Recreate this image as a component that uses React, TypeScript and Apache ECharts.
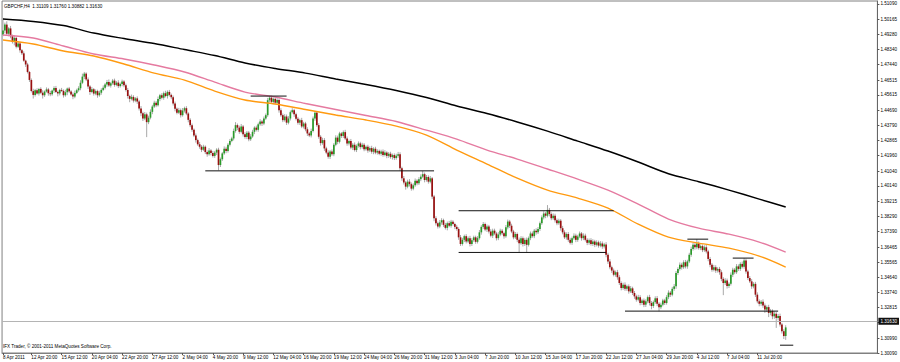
import React, { useEffect, useRef } from 'react';
import * as echarts from 'echarts';

// Prices are stored in pips above 1.3000 (e.g. 1950 -> 1.3950)
const firstOpen = 1925;
const closes = [
  1950, 1985, 1930, 1962, 1915, 1880, 1905, 1852, 1872, 1830,
  1812, 1768, 1745, 1700, 1652, 1585, 1562, 1590, 1570, 1598,
  1575, 1560, 1582, 1595, 1572, 1566, 1588, 1604, 1580, 1571,
  1592, 1586, 1560, 1578, 1600, 1583, 1565, 1552, 1574, 1590,
  1602, 1635, 1672, 1690, 1655, 1612, 1580, 1596, 1570, 1585,
  1560, 1575, 1592, 1605, 1625, 1640, 1618, 1632, 1648, 1622,
  1636, 1615, 1628, 1642, 1620, 1592, 1555, 1538, 1550, 1528,
  1541, 1522, 1480, 1452, 1420, 1445, 1398, 1425, 1460, 1492,
  1515, 1500, 1538, 1560, 1545, 1572, 1555, 1580, 1562, 1548,
  1510, 1478, 1455, 1470, 1440, 1468, 1482, 1450, 1412, 1380,
  1352, 1318, 1290, 1265, 1250, 1232, 1250, 1218, 1205, 1228,
  1212, 1195, 1215, 1232, 1140, 1175, 1210, 1238, 1225, 1262,
  1285, 1300, 1345, 1380, 1365, 1340, 1372, 1325, 1308, 1335,
  1295, 1312, 1340, 1365, 1352, 1385, 1402, 1390, 1420, 1440,
  1530, 1545, 1520, 1538, 1515, 1532, 1470, 1440, 1410, 1432,
  1395, 1420, 1458, 1470, 1445, 1418, 1395, 1410, 1372, 1390,
  1355, 1330, 1318, 1345, 1420, 1455, 1380, 1310, 1272, 1290,
  1240, 1215, 1190, 1222, 1205, 1262, 1305, 1280, 1330, 1315,
  1338, 1300, 1270, 1285, 1245, 1262, 1230, 1255, 1270, 1248,
  1262, 1235, 1250, 1228, 1242, 1220, 1238, 1215, 1225, 1208,
  1222, 1200, 1215, 1195, 1208, 1188, 1200, 1182, 1196, 1205,
  1120, 1060, 1035, 1010, 1040, 1025, 998, 1018, 1045, 1030,
  1055, 1070, 1085, 1050, 1068, 1040, 1060, 950, 820, 790,
  770, 795, 808, 780, 762, 790, 775, 798, 785, 768,
  755, 705, 665, 690, 712, 680, 700, 665, 688, 705,
  678, 700, 735, 768, 785, 752, 770, 740, 715, 745,
  728, 700, 722, 745, 730, 712, 765, 800, 775, 740,
  705, 725, 690, 670, 700, 665, 690, 660, 700, 728,
  712, 745, 735, 755, 790, 825, 848, 835, 870, 845,
  820, 835, 808, 790, 805, 760, 735, 705, 725, 690,
  672, 700, 715, 690, 710, 728, 700, 715, 690, 672,
  688, 665, 680, 660, 675, 655, 668, 650, 662, 600,
  560, 525, 505, 480, 495, 465, 430, 400, 420, 395,
  410, 380, 398, 370, 350, 330, 345, 310, 325, 300,
  320, 345, 310, 292, 315, 338, 305, 285, 300, 325,
  310, 345, 372, 360, 395, 410, 490, 515, 540, 525,
  555, 530, 560, 600, 635, 660, 645, 668, 640, 652,
  628, 645, 620, 575, 540, 510, 525, 505, 515, 495,
  455, 430, 445, 412, 425, 480, 510, 495, 530, 515,
  545, 528, 565, 500, 460, 440, 410, 425, 360, 320,
  305, 318, 295, 270, 285, 250, 262, 230, 245, 220,
  232, 180, 140, 111, 163,
];
const wickUp = [
  75, 12, 20, 8, 15, 10, 14, 6, 12, 9,
  8, 12, 6, 10, 5, 9, 14, 8, 12, 6,
  10, 15, 7, 12, 9, 14, 6, 10, 12, 8,
  7, 12, 9, 15, 6, 10, 8, 12, 14, 9,
  12, 15, 18, 10, 8, 12, 9, 14, 7, 10,
  8, 12, 10, 14, 9, 12, 15, 8, 10, 12,
  10, 14, 8, 12, 9, 10, 12, 8, 14, 10,
  8, 12, 10, 15, 9, 14, 10, 12, 15, 10,
  12, 10, 14, 8, 12, 10, 15, 9, 12, 8,
  10, 12, 8, 14, 10, 15, 9, 12, 8, 10,
  10, 8, 12, 9, 14, 10, 12, 8, 10, 14,
  8, 12, 10, 9, 12, 10, 8, 14, 12, 10,
  12, 10, 14, 18, 10, 12, 15, 9, 12, 10,
  10, 14, 12, 8, 12, 10, 14, 9, 12, 10,
  14, 10, 12, 8, 10, 12, 9, 12, 10, 14,
  12, 14, 10, 12, 8, 10, 12, 9, 14, 10,
  10, 12, 9, 14, 12, 10, 8, 12, 10, 14,
  12, 10, 14, 9, 12, 10, 14, 12, 10, 8,
  10, 14, 12, 8, 12, 10, 14, 9, 12, 10,
  12, 10, 8, 12, 10, 14, 9, 12, 10, 8,
  10, 12, 14, 8, 10, 12, 9, 10, 12, 14,
  12, 10, 14, 9, 12, 15, 10, 12, 14, 10,
  12, 14, 20, 10, 12, 10, 14, 8, 10, 12,
  10, 14, 12, 9, 12, 10, 14, 12, 10, 8,
  12, 10, 14, 12, 9, 12, 10, 14, 12, 10,
  10, 12, 14, 10, 12, 9, 12, 10, 14, 12,
  12, 10, 14, 12, 10, 9, 14, 12, 10, 12,
  10, 12, 9, 14, 12, 10, 12, 14, 10, 12,
  12, 10, 14, 12, 10, 12, 14, 10, 29, 12,
  10, 14, 12, 10, 12, 10, 14, 12, 10, 12,
  12, 10, 14, 12, 10, 12, 9, 14, 12, 10,
  10, 12, 14, 10, 12, 10, 14, 12, 10, 14,
  12, 14, 10, 12, 10, 14, 12, 10, 12, 14,
  10, 12, 14, 10, 12, 10, 14, 12, 10, 12,
  12, 10, 14, 12, 10, 12, 14, 10, 12, 10,
  10, 12, 14, 10, 12, 14, 12, 10, 14, 12,
  12, 14, 10, 12, 14, 12, 10, 26, 12, 10,
  10, 12, 14, 10, 12, 10, 14, 12, 10, 12,
  12, 10, 14, 12, 10, 14, 12, 10, 14, 12,
  10, 14, 15, 12, 10, 12, 14, 10, 12, 14,
  12, 10, 14, 12, 10, 14, 12, 10, 14, 12,
  12, 14, 10, 12, 13,
];
const wickDown = [
  10, 18, 8, 15, 12, 9, 20, 10, 8, 14,
  10, 7, 15, 9, 12, 8, 22, 10, 6, 12,
  8, 20, 10, 6, 15, 12, 9, 14, 7, 18,
  12, 6, 14, 9, 18, 10, 8, 16, 10, 7,
  9, 12, 8, 15, 10, 14, 18, 8, 12, 10,
  15, 9, 12, 7, 10, 14, 8, 12, 9, 11,
  8, 12, 9, 14, 12, 10, 15, 20, 9, 12,
  10, 14, 12, 18, 15, 10, 90, 12, 10, 14,
  9, 12, 8, 14, 10, 12, 8, 15, 10, 12,
  12, 15, 10, 8, 14, 9, 12, 10, 15, 12,
  12, 10, 15, 9, 12, 14, 8, 12, 15, 9,
  14, 10, 12, 15, 32, 12, 10, 9, 14, 10,
  10, 8, 12, 10, 15, 12, 9, 14, 10, 12,
  12, 10, 8, 14, 10, 12, 9, 15, 10, 8,
  10, 12, 8, 14, 10, 12, 15, 10, 12, 9,
  14, 10, 12, 8, 15, 10, 12, 14, 10, 12,
  12, 15, 10, 12, 9, 14, 10, 12, 15, 10,
  15, 10, 12, 14, 10, 12, 9, 15, 10, 12,
  12, 10, 14, 12, 10, 15, 9, 12, 10, 14,
  10, 12, 9, 14, 10, 12, 15, 10, 12, 9,
  12, 10, 8, 14, 12, 10, 15, 12, 10, 12,
  14, 15, 12, 18, 10, 14, 12, 10, 9, 12,
  10, 12, 9, 14, 10, 12, 10, 15, 18, 14,
  12, 10, 14, 12, 10, 15, 9, 12, 10, 14,
  10, 15, 12, 10, 14, 12, 10, 15, 12, 10,
  12, 10, 9, 14, 12, 10, 15, 12, 10, 14,
  10, 14, 12, 10, 12, 15, 10, 12, 14, 10,
  12, 10, 14, 56, 10, 15, 12, 46, 10, 12,
  10, 12, 14, 10, 12, 10, 12, 15, 10, 14,
  12, 10, 14, 12, 10, 15, 12, 10, 14, 12,
  10, 12, 10, 14, 12, 10, 15, 12, 10, 14,
  12, 10, 12, 14, 10, 12, 10, 14, 12, 15,
  15, 12, 14, 10, 12, 15, 12, 14, 10, 12,
  12, 14, 10, 12, 15, 12, 10, 14, 12, 15,
  14, 12, 15, 20, 12, 10, 14, 25, 12, 10,
  12, 10, 12, 14, 10, 12, 15, 12, 10, 14,
  10, 12, 14, 10, 12, 10, 14, 12, 10, 12,
  12, 10, 12, 14, 15, 12, 10, 14, 12, 15,
  14, 73, 12, 15, 12, 10, 14, 12, 10, 12,
  12, 10, 12, 14, 12, 10, 15, 12, 14, 12,
  15, 12, 14, 20, 15, 25, 14, 18, 15, 60,
  15, 12, 14, 18, 23,
];

// Moving averages read at every 16th bar (pips above 1.3000)
const maBars = [0, 16, 32, 48, 64, 80, 96, 112, 128, 144, 160, 176, 192, 208, 224, 240, 256, 272, 288, 304, 320, 336, 352, 368, 384, 400, 414];
const maBlack = [2019, 2004, 1979, 1934, 1901, 1871, 1835, 1799, 1754, 1721, 1693, 1657, 1624, 1588, 1546, 1495, 1450, 1399, 1344, 1284, 1224, 1158, 1088, 1040, 989, 935, 887];
const maPink = [1922, 1904, 1856, 1808, 1778, 1742, 1700, 1639, 1579, 1549, 1510, 1474, 1438, 1402, 1350, 1296, 1230, 1176, 1116, 1055, 989, 905, 815, 760, 724, 676, 616];
const maOrange = [1892, 1868, 1826, 1796, 1748, 1693, 1651, 1585, 1531, 1507, 1474, 1441, 1411, 1374, 1320, 1230, 1146, 1061, 989, 941, 881, 784, 706, 670, 640, 592, 526];

// Hand-drawn horizontal lines
const trendFrom = [131, 107, 241, 241, 362, 386, 329, 411];
const trendTo = [150, 228, 323, 319, 373, 397, 410, 418];
const trendLevel = [1555, 1105, 865, 614, 694, 580, 261, 56];

const labelBars = [0, 15, 31, 47, 63, 79, 95, 111, 127, 143, 159, 175, 191, 207, 223, 239, 255, 271, 287, 303, 319, 335, 351, 367, 383, 399];
const dateLabels = ['8 Apr 2011', '12 Apr 20:00', '15 Apr 12:00', '20 Apr 04:00', '22 Apr 20:00', '27 Apr 12:00', '2 May 04:00', '4 May 20:00', '9 May 12:00', '12 May 04:00', '16 May 20:00', '19 May 12:00', '24 May 04:00', '26 May 20:00', '31 May 12:00', '3 Jun 04:00', '7 Jun 20:00', '10 Jun 12:00', '15 Jun 04:00', '17 Jun 20:00', '22 Jun 12:00', '27 Jun 04:00', '29 Jun 20:00', '4 Jul 12:00', '7 Jul 04:00', '11 Jul 20:00'];
const priceTicks = [1.51090, 1.50165, 1.49280, 1.48340, 1.47440, 1.46515, 1.45615, 1.44690, 1.43790, 1.42865, 1.41960, 1.41040, 1.40140, 1.39215, 1.38290, 1.37390, 1.36465, 1.35565, 1.34640, 1.33740, 1.32815, 1.31915, 1.30990, 1.30090];
const headerQuote = ['1.31109', '1.31760', '1.30882', '1.31630'];
const lastPrice = 1.3163;
const symbolTitle = 'GBPCHF,H4';
const footerText = 'IFX Trader, \u00a9 2001-2011 MetaQuotes Software Corp.';

const TOTAL_SLOTS = 463;
const P = (pip: number) => 1.3 + pip / 10000;

export default function App() {
  const ref = useRef<HTMLDivElement>(null);
  useEffect(() => {
    if (!ref.current) return;
    const chart = echarts.init(ref.current, undefined, { renderer: 'svg' });
    const labelSet = new Set(labelBars);
    const cats: string[] = [];
    for (let i = 0; i < TOTAL_SLOTS; i++) {
      const k = labelBars.indexOf(i);
      cats.push(k >= 0 ? dateLabels[k] : '');
    }
    const candles = closes.map((c, i) => {
      const o = i === 0 ? firstOpen : closes[i - 1];
      const h = Math.max(o, c) + wickUp[i];
      const l = Math.min(o, c) - wickDown[i];
      return [i, P(o), P(c), P(l), P(h)];
    });
    const fontFamily = 'Liberation Sans, Arial, sans-serif';
    const maSeries = (vals: number[], color: string, width: number) => ({
      type: 'line',
      data: maBars.map((b, k) => [b, P(vals[k])]),
      showSymbol: false,
      symbol: 'none',
      smooth: 0.3,
      silent: true,
      lineStyle: { color, width },
      z: 4,
    });
    const trendSeries = trendFrom.map((f, k) => ({
      type: 'line',
      data: [[f, P(trendLevel[k])], [trendTo[k], P(trendLevel[k])]],
      symbol: 'none',
      silent: true,
      lineStyle: { color: '#111', width: 1 },
      z: 5,
    }));
    chart.setOption({
      animation: false,
      backgroundColor: '#fff',
      grid: { left: 2, right: 18, top: 1, bottom: 9, show: true, borderColor: '#808080', borderWidth: 1 },
      xAxis: {
        type: 'category',
        data: cats,
        boundaryGap: true,
        axisLine: { show: true, lineStyle: { color: '#808080' } },
        axisTick: { show: true, interval: (i: number) => labelSet.has(i), alignWithLabel: true, length: 2, lineStyle: { color: '#555' } },
        axisLabel: { interval: (i: number) => labelSet.has(i), align: 'left', fontSize: 4.6, margin: 2, color: '#000', fontFamily },
        splitLine: { show: false },
      },
      yAxis: {
        type: 'value',
        position: 'right',
        min: 1.3009,
        max: 1.5127,
        scale: true,
        axisLine: { show: true, lineStyle: { color: '#666' } },
        axisTick: { show: true, customValues: priceTicks, length: 2, lineStyle: { color: '#555' } },
        axisLabel: { customValues: priceTicks, formatter: (v: number) => v.toFixed(5), fontSize: 4.6, margin: 3, color: '#000', fontFamily },
        splitLine: { show: false },
      },
      series: [
        {
          type: 'line',
          data: [[0, lastPrice], [1, lastPrice]],
          symbol: 'none',
          silent: true,
          lineStyle: { opacity: 0 },
          markLine: {
            symbol: ['none', 'none'],
            silent: true,
            animation: false,
            data: [{ yAxis: lastPrice }],
            lineStyle: { color: '#b4b4b4', type: 'solid', width: 1 },
            label: { show: true, position: 'end', formatter: lastPrice.toFixed(5), backgroundColor: '#111', color: '#fff', fontSize: 4.6, padding: [1, 2], distance: 1, fontFamily },
          },
          z: 1,
        },
        {
          type: 'custom',
          data: candles,
          encode: { x: 0, y: [1, 2, 3, 4] },
          clip: true,
          z: 3,
          renderItem: (params: any, api: any) => {
            const i = api.value(0);
            const o = api.value(1);
            const c = api.value(2);
            const l = api.value(3);
            const h = api.value(4);
            const po = api.coord([i, o]);
            const pc = api.coord([i, c]);
            const pl = api.coord([i, l]);
            const ph = api.coord([i, h]);
            const bw = 1.7;
            const top = Math.min(po[1], pc[1]);
            const hgt = Math.max(0.8, Math.abs(po[1] - pc[1]));
            return {
              type: 'group',
              children: [
                { type: 'line', shape: { x1: ph[0], y1: ph[1], x2: pl[0], y2: pl[1] }, style: { stroke: '#a8a8a8', lineWidth: 1 } },
                { type: 'rect', shape: { x: po[0] - bw / 2, y: top, width: bw, height: hgt }, style: { fill: c >= o ? '#2a9a2a' : '#980f0f' } },
              ],
            };
          },
        },
        maSeries(maBlack, '#000', 1.5),
        maSeries(maPink, '#e57aa0', 1.4),
        maSeries(maOrange, '#ff9a10', 1.4),
        ...trendSeries,
      ],
      graphic: [
        { type: 'text', left: 4, top: 4, style: { text: symbolTitle + '  ' + headerQuote.join(' '), fontSize: 4.6, fill: '#000', fontFamily } },
        { type: 'text', left: 3, top: 344, style: { text: footerText, fontSize: 4.6, fill: '#000', fontFamily } },
      ],
    });
    return () => chart.dispose();
  }, []);
  return <div ref={ref} style={{ position: 'absolute', left: 0, top: 0, width: 900, height: 362 }} />;
}
